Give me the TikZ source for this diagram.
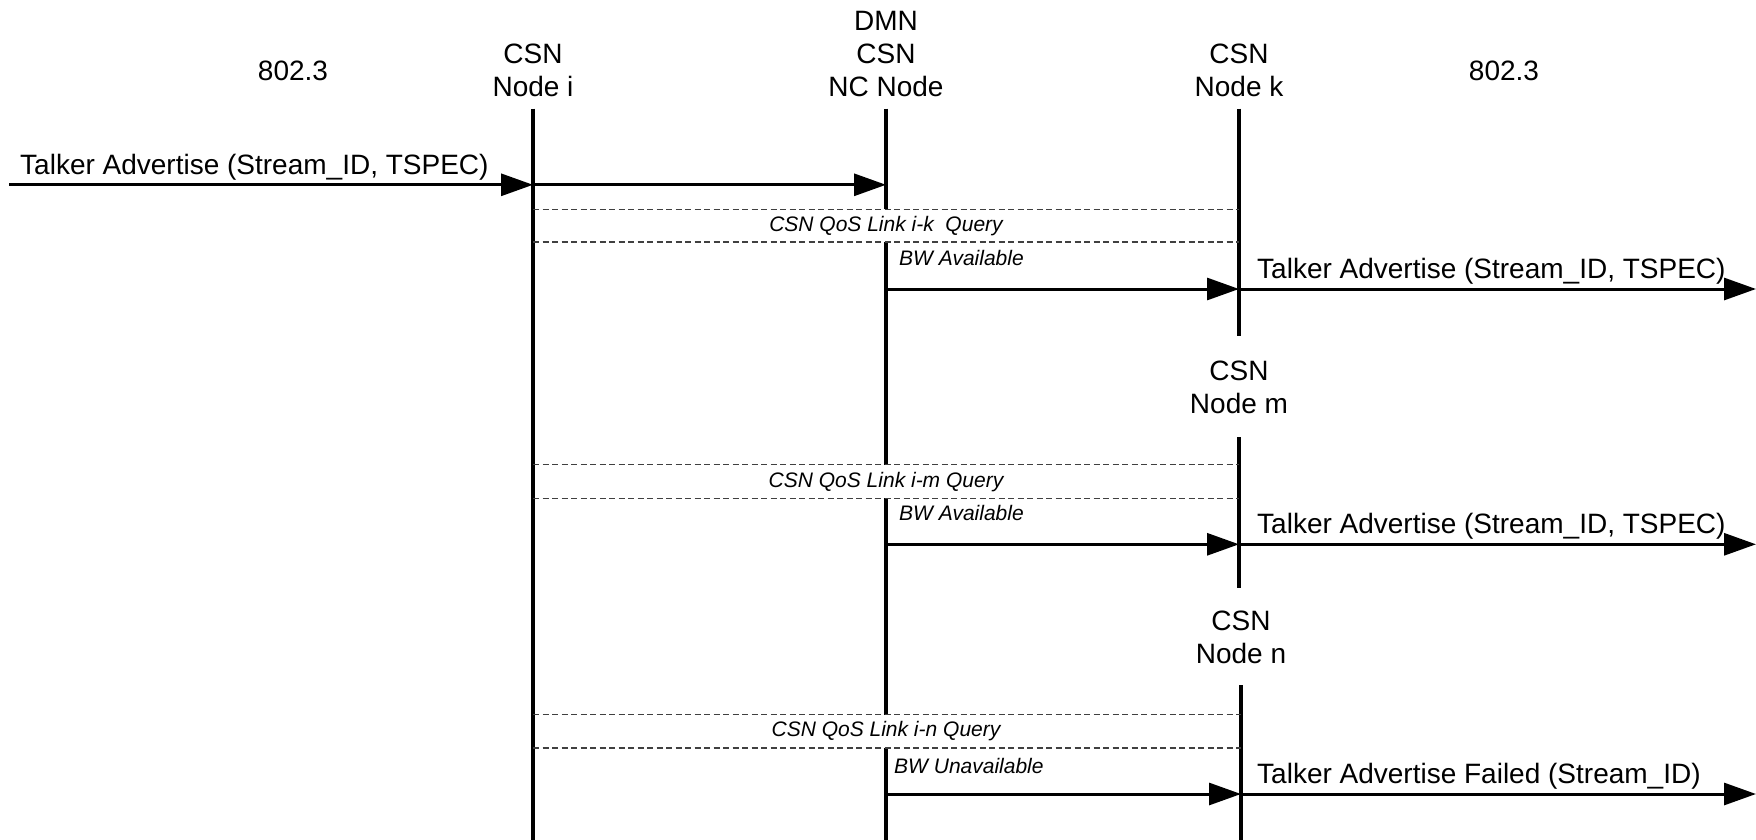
\documentclass[tikz,border=0pt]{standalone}
\usepackage{fontspec}
\setmainfont{Liberation Sans}
\usetikzlibrary{arrows.meta}

\tikzset{
  head/.style={align=center, inner sep=0pt, font=\fontsize{28}{33}\selectfont},
  msgtext/.style={inner sep=0pt, font=\fontsize{28}{33}\selectfont},
  notetext/.style={inner sep=0pt, font=\fontsize{21}{25}\selectfont\itshape},
  lifeline/.style={line width=4pt},
  msg/.style={line width=3pt, -{Triangle[length=32pt,width=22pt]}},
  query/.style={dash pattern=on 6pt off 3.5pt, line width=1.2pt, draw=black!75},
}

\begin{document}
\begin{tikzpicture}[x=1pt,y=-1pt]
\useasboundingbox (0,0) rectangle (1756,840);

% column headings
\node[head] (l8023) at (293,70.6) {802.3};
\node[head] (r8023) at (1504,70.6) {802.3};
\node[head] (hi) at (533,70) {CSN\\Node i};
\node[head] (hnc) at (886,54) {DMN\\CSN\\NC Node};
\node[head] (hk) at (1239,70.6) {CSN\\Node k};
\node[head] (hm) at (1239,387.5) {CSN\\Node m};
\node[head] (hn) at (1241,637) {CSN\\Node n};

% lifeline end points
\coordinate (iT) at (533,108.6);  \coordinate (iB) at (533,840);
\coordinate (ncT) at (886,108.6); \coordinate (ncB) at (886,840);
\coordinate (kT) at (1239,108.6); \coordinate (kB) at (1239,336);
\coordinate (mT) at (1239,437);   \coordinate (mB) at (1239,588);
\coordinate (nT) at (1241,685);   \coordinate (nB) at (1241,840);

\draw[lifeline] (iT) -- (iB);
\draw[lifeline] (ncT) -- (ncB);
\draw[lifeline] (kT) -- (kB);
\draw[lifeline] (mT) -- (mB);
\draw[lifeline] (nT) -- (nB);

% incoming advertisement
\coordinate (in0) at (9,184.8);
\coordinate (i0) at (533,184.8);
\coordinate (nc0) at (886,184.8);
\draw[msg] (in0) -- (i0);
\draw[msg] (i0) -- (nc0);
\node[msgtext, anchor=base west] (t0) at (20,174.6) {Talker Advertise (Stream\_ID, TSPEC)};

% query bands: white strip with dashed borders
\foreach \nm/\xe/\ya/\yb/\txt in {
  qk/1239/209.4/242/{CSN QoS Link i-k\ \ Query},
  qm/1239/464.8/498.4/{CSN QoS Link i-m Query},
  qn/1241/714.6/748/{CSN QoS Link i-n Query}}{
  \coordinate (\nm a) at (533,\ya);  \coordinate (\nm b) at (\xe,\ya);
  \coordinate (\nm c) at (533,\yb);  \coordinate (\nm d) at (\xe,\yb);
  \fill[white] ([xshift=2pt]\nm a) rectangle ([xshift=-2pt]\nm d);
  \draw[query] (\nm a) -- (\nm b);
  \draw[query] (\nm c) -- (\nm d);
  \node[notetext] (\nm t) at (886,{(\ya+\yb)/2}) {\txt};
}

% replies and forwarded advertisements
\node[notetext, anchor=west] (bk) at (899,257.6) {BW Available};
\coordinate (nc1) at (886,289);  \coordinate (k1) at (1239,289);  \coordinate (o1) at (1756,289);
\draw[msg] (nc1) -- (k1);
\draw[msg] (k1) -- (o1);
\node[msgtext, anchor=base west] (t1) at (1257,278) {Talker Advertise (Stream\_ID, TSPEC)};

\node[notetext, anchor=west] (bm) at (899,513) {BW Available};
\coordinate (nc2) at (886,544.3);  \coordinate (m2) at (1239,544.3);  \coordinate (o2) at (1756,544.3);
\draw[msg] (nc2) -- (m2);
\draw[msg] (m2) -- (o2);
\node[msgtext, anchor=base west] (t2) at (1257,533.3) {Talker Advertise (Stream\_ID, TSPEC)};

\node[notetext, anchor=west] (bn) at (894,766) {BW Unavailable};
\coordinate (nc3) at (886,794);  \coordinate (n3) at (1241,794);  \coordinate (o3) at (1756,794);
\draw[msg] (nc3) -- (n3);
\draw[msg] (n3) -- (o3);
\node[msgtext, anchor=base west] (t3) at (1257,783) {Talker Advertise Failed (Stream\_ID)};
\end{tikzpicture}
\end{document}
